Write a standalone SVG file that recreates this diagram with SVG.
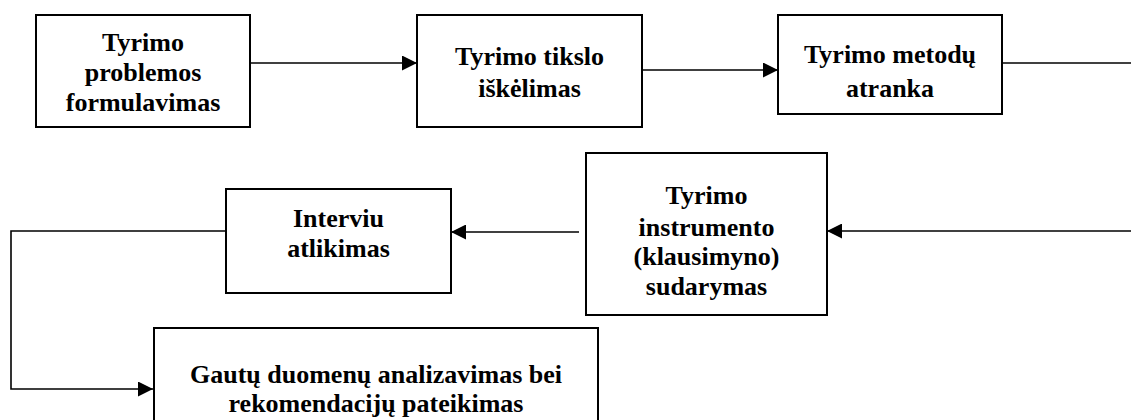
<svg xmlns="http://www.w3.org/2000/svg" width="1131" height="420" viewBox="0 0 1131 420">
<style>
.box{fill:#fff;stroke:#000;stroke-width:2}
.t{font-family:"Liberation Serif","Times New Roman",serif;font-weight:bold;font-size:26px;fill:#000;text-anchor:middle}
.c{fill:none;stroke:#000;stroke-width:1.6}
</style>
<defs>
<marker id="ah" markerUnits="userSpaceOnUse" markerWidth="16" markerHeight="15" refX="15" refY="7.5" orient="auto">
<path d="M0,0 L15,7.5 L0,15 z" fill="#000"/>
</marker>
</defs>
<rect width="1131" height="420" fill="#fff"/>
<g id="connectors">
<path class="c" d="M250,63 H417" marker-end="url(#ah)"/>
<path class="c" d="M642,70 H778" marker-end="url(#ah)"/>
<path class="c" d="M1002,63 H1131"/>
<path class="c" d="M1131,231 H827" marker-end="url(#ah)"/>
<path class="c" d="M579,232 H451" marker-end="url(#ah)"/>
<path class="c" d="M226,231 H11 V389 H153" marker-end="url(#ah)"/>
</g>
<g id="n1">
<rect class="box" x="36" y="15" width="214" height="112"/>
<text class="t" x="143" y="51">Tyrimo</text>
<text class="t" x="143" y="81">problemos</text>
<text class="t" x="143" y="111">formulavimas</text>
</g>
<g id="n2">
<rect class="box" x="417" y="15" width="225" height="112"/>
<text class="t" x="529.5" y="65">Tyrimo tikslo</text>
<text class="t" x="529.5" y="97">iškėlimas</text>
</g>
<g id="n3">
<rect class="box" x="778" y="15" width="224" height="99"/>
<text class="t" x="890" y="63">Tyrimo metodų</text>
<text class="t" x="890" y="97">atranka</text>
</g>
<g id="n4">
<rect class="box" x="586" y="153" width="241" height="162"/>
<text class="t" x="706.5" y="204">Tyrimo</text>
<text class="t" x="706.5" y="236">instrumento</text>
<text class="t" x="706.5" y="265">(klausimyno)</text>
<text class="t" x="706.5" y="295">sudarymas</text>
</g>
<g id="n5">
<rect class="box" x="226" y="189" width="225" height="104"/>
<text class="t" x="338.5" y="227">Interviu</text>
<text class="t" x="338.5" y="257">atlikimas</text>
</g>
<g id="n6">
<rect class="box" x="154" y="328" width="444" height="110"/>
<text class="t" x="376" y="383">Gautų duomenų analizavimas bei</text>
<text class="t" x="376" y="412">rekomendacijų pateikimas</text>
</g>
</svg>
